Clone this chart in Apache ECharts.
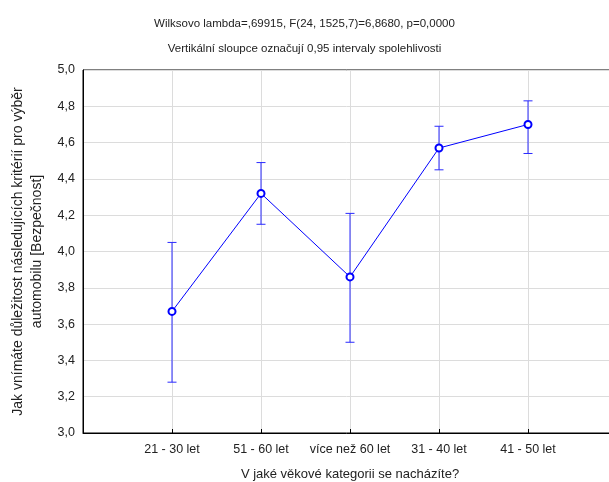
<!DOCTYPE html>
<html>
<head>
<meta charset="utf-8">
<script src="https://cdn.jsdelivr.net/npm/echarts@6/dist/echarts.min.js"></script>
<style>html,body{margin:0;padding:0;background:#fff}#c{width:609px;height:482px}</style>
</head>
<body>
<div id="c"></div>
<script>
const categories = ['21 - 30 let', '51 - 60 let', 'více než 60 let', '31 - 40 let', '41 - 50 let'];
const means = [3.67, 4.32, 3.86, 4.57, 4.70];
const lower = [3.28, 4.15, 3.50, 4.45, 4.54];
const upper = [4.05, 4.49, 4.21, 4.69, 4.83];
const yTicks = [3.0, 3.2, 3.4, 3.6, 3.8, 4.0, 4.2, 4.4, 4.6, 4.8, 5.0];
const titleLines = ['Wilksovo lambda=,69915, F(24, 1525,7)=6,8680, p=0,0000', 'Vertikální sloupce označují 0,95 intervaly spolehlivosti'];
const xTitle = 'V jaké věkové kategorii se nacházíte?';
const yTitle = ['Jak vnímáte důležitost následujících kritérií pro výběr', 'automobilu [Bezpečnost]'];

const FONT = '"Liberation Sans", Arial, sans-serif';
const chart = echarts.init(document.getElementById('c'), null, {renderer: 'canvas'});
const lineData = means.map((m, i) => [i + 1, m]);
const errData = means.map((m, i) => [i + 1, lower[i], upper[i]]);

chart.setOption({
  animation: false,
  backgroundColor: '#fff',
  textStyle: {fontFamily: FONT},
  title: [
    {text: titleLines[0], left: 'center', top: 13, textStyle: {fontSize: 11.5, fontWeight: 'normal', color: '#222', fontFamily: FONT}},
    {text: titleLines[1], left: 'center', top: 38, textStyle: {fontSize: 11.5, fontWeight: 'normal', color: '#222', fontFamily: FONT}}
  ],
  grid: {left: 83, top: 70, right: -8, bottom: 49, containLabel: false, outerBoundsMode: 'none',
    show: true, borderColor: '#000', borderWidth: 1, backgroundColor: 'transparent'},
  xAxis: {
    type: 'value', min: 0, max: categories.length + 1, interval: 1,
    name: xTitle, nameLocation: 'middle', nameGap: 35,
    nameTextStyle: {fontSize: 13, color: '#222', fontFamily: FONT},
    axisLine: {show: true, lineStyle: {color: '#000', width: 1}},
    axisTick: {show: true, inside: true, length: 4, lineStyle: {color: '#000'}},
    axisLabel: {fontSize: 12.5, color: '#222', margin: 10, fontFamily: FONT,
      formatter: v => (v >= 1 && v <= categories.length) ? categories[v - 1] : ''},
    splitLine: {show: true, lineStyle: {color: '#dcdcdc', width: 1}}
  },
  yAxis: {
    type: 'value', min: yTicks[0], max: yTicks[yTicks.length - 1], interval: 0.2,
    name: yTitle.join('\n'), nameLocation: 'middle', nameGap: 32, nameRotate: 90,
    nameTextStyle: {fontSize: 14, color: '#222', lineHeight: 19, fontFamily: FONT},
    axisLine: {show: true, lineStyle: {color: '#000', width: 1}},
    axisTick: {show: false},
    axisLabel: {fontSize: 12.5, color: '#222', margin: 8, fontFamily: FONT,
      formatter: v => v.toFixed(1).replace('.', ',')},
    splitLine: {show: true, lineStyle: {color: '#dcdcdc', width: 1}}
  },
  series: [
    {
      type: 'custom',
      data: errData,
      z: 3,
      renderItem: function (params, api) {
        const x = api.value(0);
        const lo = api.coord([x, api.value(1)]);
        const hi = api.coord([x, api.value(2)]);
        const hw = 4.5;
        const st = {stroke: '#2a2aff', lineWidth: 1};
        return {type: 'group', children: [
          {type: 'line', shape: {x1: lo[0], y1: lo[1], x2: hi[0], y2: hi[1]}, style: st},
          {type: 'line', shape: {x1: lo[0] - hw, y1: lo[1], x2: lo[0] + hw, y2: lo[1]}, style: st},
          {type: 'line', shape: {x1: hi[0] - hw, y1: hi[1], x2: hi[0] + hw, y2: hi[1]}, style: st}
        ]};
      }
    },
    {
      type: 'line',
      data: lineData,
      z: 4,
      lineStyle: {color: '#0000ff', width: 1},
      symbol: 'circle', symbolSize: 7,
      itemStyle: {color: '#fff', borderColor: '#0000ff', borderWidth: 2}
    }
  ]
});
</script>
</body>
</html>
